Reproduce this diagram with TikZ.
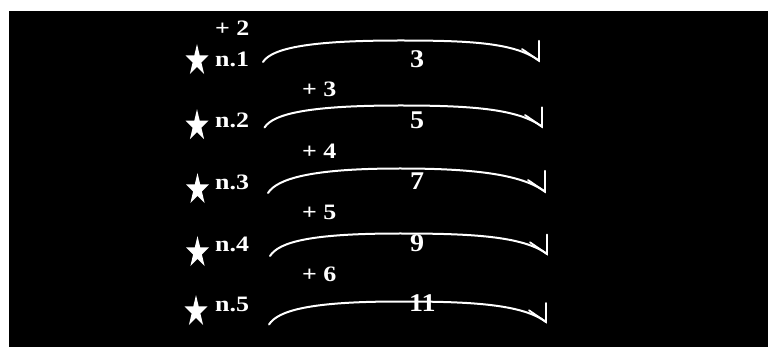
\documentclass[tikz,border=0pt]{standalone}
\usepackage{fontspec}
\usepackage{graphicx}
\usetikzlibrary{calc}
\setmainfont{Liberation Serif}
\begin{document}
\begin{tikzpicture}[x=1pt,y=-1pt,
  lbl/.style={text=white,inner sep=0pt,anchor=base west,font=\fontsize{22}{24}\selectfont\bfseries},
  numlbl/.style={text=white,inner sep=0pt,anchor=base west,font=\fontsize{25.5}{28}\selectfont\bfseries},
  arcline/.style={draw=white,line width=2pt,line cap=round},
  barb/.style={draw=white,line width=1.8pt,line cap=round,line join=miter},
  whitestar/.pic={\fill[white] (0,-16.6) -- (-2.72,-5.13) -- (-11.5,-5.13) -- (-4.39,1.96) -- (-7.11,13.43) -- (0,6.34) -- (7.11,13.43) -- (4.39,1.96) -- (11.5,-5.13) -- (2.72,-5.13) -- cycle;}
]
\useasboundingbox (0,0) rectangle (768,347);
\fill[white] (0,0) rectangle (768,347);
\fill[black] (9,11) rectangle (768,347);

% stars
\pic (st1) at (197,60.6) {whitestar};
\pic (st2) at (197,125.8) {whitestar};
\pic (st3) at (197.5,189.6) {whitestar};
\pic (st4) at (197.5,252.6) {whitestar};
\pic (st5) at (196,311.6) {whitestar};

% row labels
\node[lbl] (n1) at (215,67) {\scalebox{1.18}[1]{n.1}};
\node[lbl] (n2) at (215,128) {\scalebox{1.18}[1]{n.2}};
\node[lbl] (n3) at (215,190) {\scalebox{1.18}[1]{n.3}};
\node[lbl] (n4) at (215,252) {\scalebox{1.18}[1]{n.4}};
\node[lbl] (n5) at (215,312) {\scalebox{1.18}[1]{n.5}};

% increments
\node[lbl] (p2) at (215,36) {\scalebox{1.18}[1]{+ 2}};
\node[lbl] (p3) at (302,96.7) {\scalebox{1.18}[1]{+ 3}};
\node[lbl] (p4) at (302,159) {\scalebox{1.18}[1]{+ 4}};
\node[lbl] (p5) at (302,220) {\scalebox{1.18}[1]{+ 5}};
\node[lbl] (p6) at (302,281.7) {\scalebox{1.18}[1]{+ 6}};

% values
\node[numlbl] (v1) at (410,67.3) {\scalebox{1.1}[1]{3}};
\node[numlbl] (v2) at (410,128.3) {\scalebox{1.1}[1]{5}};
\node[numlbl] (v3) at (410,190) {\scalebox{1.1}[1]{7}};
\node[numlbl] (v4) at (410,251.7) {\scalebox{1.1}[1]{9}};
\node[numlbl] (v5) at (409,311.7) {\scalebox{1.1}[1]{11}};

% arc coordinates
\coordinate (L1) at (263,62);    \coordinate (M1) at (400,40.5);  \coordinate (R1) at (539,60.7);
\coordinate (L2) at (264.5,127.5); \coordinate (M2) at (400,105.5); \coordinate (R2) at (542,126.7);
\coordinate (L3) at (268,193);   \coordinate (M3) at (400,168.5); \coordinate (R3) at (545,191.7);
\coordinate (L4) at (270,256);   \coordinate (M4) at (400,233.5); \coordinate (R4) at (547,254);
\coordinate (L5) at (269,324.5); \coordinate (M5) at (400,301.5); \coordinate (R5) at (546,322);

\foreach \i/\t in {1/20,2/19.5,3/21,4/19.5,5/19}{
  \draw[arcline] (L\i) .. controls +(9,-14) and +(-90,0) .. (M\i) .. controls +(70,0) and +(-24,-18) .. (R\i);
  \draw[barb] ($(R\i)+(0,-\t)$) -- (R\i) -- ++(-17,-11.7);
}
\end{tikzpicture}
\end{document}
